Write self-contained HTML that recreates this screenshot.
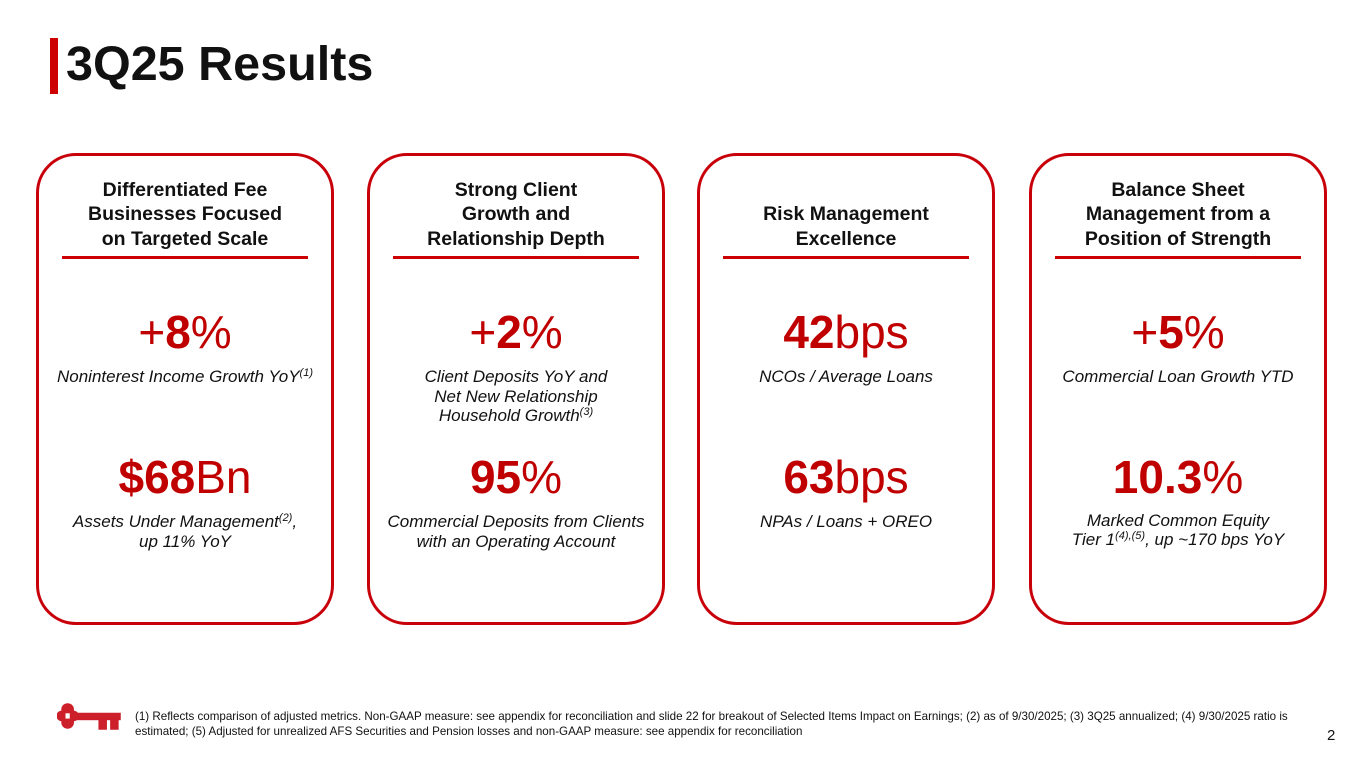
<!DOCTYPE html>
<html><head><meta charset="utf-8"><style>
*{margin:0;padding:0;box-sizing:border-box}
body{width:1365px;height:768px;background:#fff;position:relative;overflow:hidden;font-family:"Liberation Sans",Arial,sans-serif;color:#111}
.bar{position:absolute;left:50px;top:38px;width:8px;height:56px;background:#cc0000}
h1{position:absolute;left:66px;top:36px;font-size:48.5px;font-weight:bold;line-height:56px;color:#111}
.card{position:absolute;top:153px;width:298px;height:472px;border:3px solid #c8000a;border-radius:40px}
.hd{position:absolute;left:0;width:100%;text-align:center;font-size:19.5px;font-weight:bold;line-height:24.5px;bottom:371px}
.rule{position:absolute;left:23px;width:246px;top:100px;height:3px;background:#cc0000}
.num{position:absolute;left:0;width:100%;text-align:center;font-size:46px;line-height:48px;color:#c00000}
.num b{font-weight:bold}
.cap{position:absolute;left:0;width:100%;text-align:center;font-size:17px;font-style:italic;line-height:19.5px;color:#111;white-space:nowrap}
sup{font-size:11px;vertical-align:6px;line-height:0}
.fn{position:absolute;left:135px;top:709px;font-size:11.6px;line-height:15px;width:1162px;color:#111}
.pg{position:absolute;left:1327px;top:727px;font-size:15px}
.key{position:absolute;left:57px;top:700px}
</style></head><body>
<div class="bar"></div>
<h1>3Q25 Results</h1>

<div class="card" style="left:36px">
 <div class="hd">Differentiated Fee<br>Businesses Focused<br>on Targeted Scale</div>
 <div class="rule"></div>
 <div class="num" style="top:152px">+<b>8</b>%</div>
 <div class="cap" style="top:211px">Noninterest Income Growth YoY<sup>(1)</sup></div>
 <div class="num" style="top:297px"><b>$68</b>Bn</div>
 <div class="cap" style="top:356px">Assets Under Management<sup>(2)</sup>,<br>up 11% YoY</div>
</div>

<div class="card" style="left:367px">
 <div class="hd">Strong Client<br>Growth and<br>Relationship Depth</div>
 <div class="rule"></div>
 <div class="num" style="top:152px">+<b>2</b>%</div>
 <div class="cap" style="top:211px">Client Deposits YoY and<br>Net New Relationship<br>Household Growth<sup>(3)</sup></div>
 <div class="num" style="top:297px"><b>95</b>%</div>
 <div class="cap" style="top:356px">Commercial Deposits from Clients<br>with an Operating Account</div>
</div>

<div class="card" style="left:697px">
 <div class="hd">Risk Management<br>Excellence</div>
 <div class="rule"></div>
 <div class="num" style="top:152px"><b>42</b>bps</div>
 <div class="cap" style="top:211px">NCOs / Average Loans</div>
 <div class="num" style="top:297px"><b>63</b>bps</div>
 <div class="cap" style="top:356px">NPAs / Loans + OREO</div>
</div>

<div class="card" style="left:1029px">
 <div class="hd">Balance Sheet<br>Management from a<br>Position of Strength</div>
 <div class="rule"></div>
 <div class="num" style="top:152px">+<b>5</b>%</div>
 <div class="cap" style="top:211px">Commercial Loan Growth YTD</div>
 <div class="num" style="top:297px"><b>10.3</b>%</div>
 <div class="cap" style="top:356px;line-height:18.5px">Marked Common Equity<br>Tier 1<sup>(4),(5)</sup>, up ~170 bps YoY</div>
</div>

<svg class="key" width="68" height="34" viewBox="0 0 62 32">
 <g fill="#cc1f2a">
  <circle cx="9" cy="9" r="6"/><circle cx="9" cy="21" r="6"/><circle cx="3.5" cy="15" r="5"/><circle cx="14.5" cy="15" r="5"/>
  <rect x="14" y="12" width="45" height="7"/>
  <rect x="38" y="17" width="8" height="11"/><rect x="49" y="17" width="8" height="11"/>
 </g>
 <rect x="7" y="12.5" width="4" height="5" fill="#fff"/>
</svg>
<div class="fn">(1) Reflects comparison of adjusted metrics. Non-GAAP measure: see appendix for reconciliation and slide 22 for breakout of Selected Items Impact on Earnings; (2) as of 9/30/2025; (3) 3Q25 annualized; (4) 9/30/2025 ratio is<br>estimated; (5) Adjusted for unrealized AFS Securities and Pension losses and non-GAAP measure: see appendix for reconciliation</div>
<div class="pg">2</div>
</body></html>
